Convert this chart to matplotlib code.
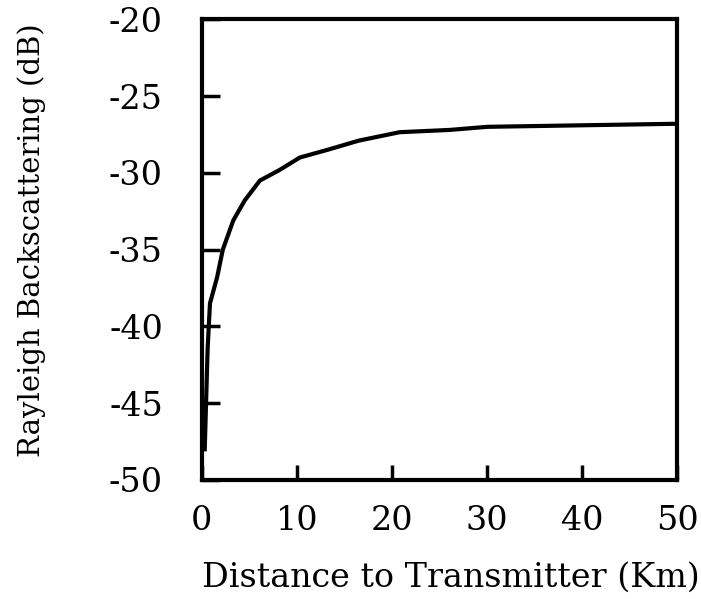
import numpy as np
import matplotlib.pyplot as plt

plt.rcParams['font.family'] = ['DejaVu Serif']
plt.rcParams['axes.unicode_minus'] = False

distance = np.array([0.3, 0.6, 0.85, 1.6, 2.2, 3.3, 4.5, 6.1, 8.2, 10.3, 13.2, 16.5,
                     20.8, 26.1, 30, 40, 50])
backscatter = np.array([-48.0, -41.5, -38.5, -36.8, -35.0, -33.1, -31.8, -30.5, -29.8,
                        -29.0, -28.5, -27.9, -27.35, -27.2, -27.0, -26.9, -26.8])

fig = plt.figure(figsize=(7.01, 5.99), dpi=100)
ax = fig.add_axes([0.288, 0.1987, 0.678, 0.769])

ax.plot(distance, backscatter, color='black', linewidth=3)

ax.set_xlim(0, 50)
ax.set_ylim(-50, -20)
ax.set_xticks(np.arange(0, 51, 10))
ax.set_yticks(np.arange(-50, -19, 5))

for s in ax.spines.values():
    s.set_linewidth(3)
ax.tick_params(axis='x', direction='in', length=11, width=2.5, pad=18, labelsize=24)
ax.tick_params(axis='y', direction='in', length=13, width=2.5, pad=28, labelsize=24)

ax.set_xlabel('Distance to Transmitter (Km)', fontsize=24, labelpad=18)
ax.set_ylabel('Rayleigh Backscattering (dB)', fontsize=21, labelpad=45)
ax.xaxis.label.set_x(0.524)
ax.yaxis.label.set_y(0.52)

fig.savefig('out.png', dpi=100)
